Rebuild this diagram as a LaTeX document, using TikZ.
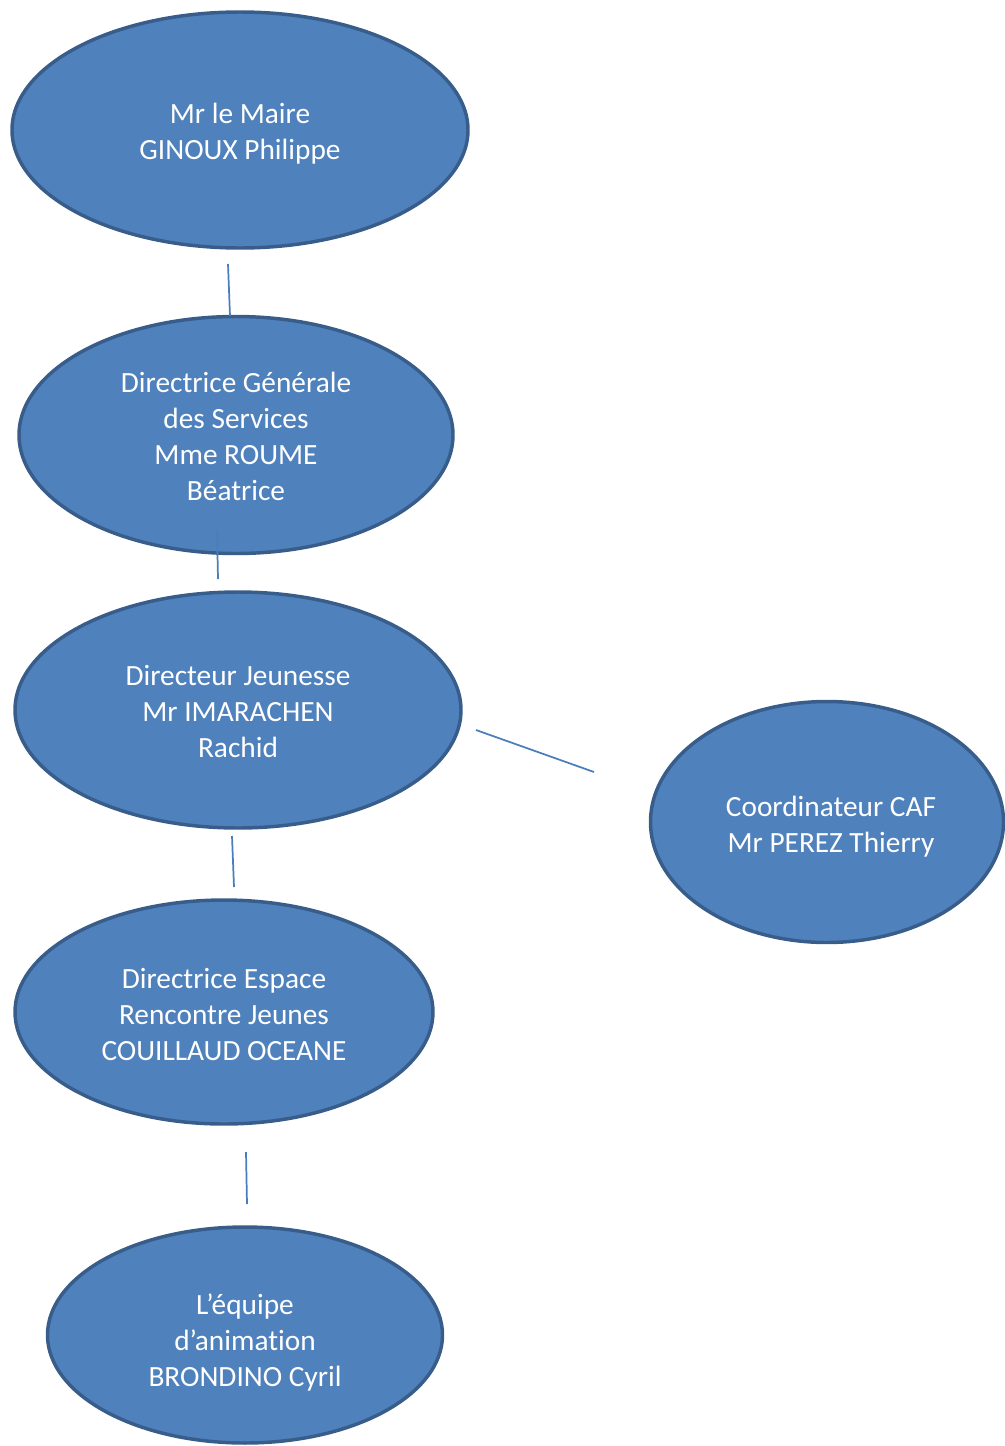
\documentclass[tikz,border=0pt]{standalone}
\usepackage{fontspec}
\setmainfont[Ligatures=NoCommon]{Carlito}
\usetikzlibrary{shapes.geometric}
\definecolor{fillblue}{HTML}{4F81BD}
\definecolor{edgeblue}{HTML}{385D8A}
\definecolor{lineblue}{HTML}{4A7EBB}
\newcommand\ovtxt[2]{\raisebox{#1}[\height][\depth]{\begin{tabular}{@{}c@{}}#2\end{tabular}}}
\tikzset{
  oval/.style={ellipse, draw=edgeblue, fill=fillblue, line width=2.6pt, inner sep=0pt,
    text=white, align=center, font=\fontsize{22pt}{27pt}\selectfont},
  link/.style={draw=lineblue, line width=1.3pt}
}
\begin{document}
\begin{tikzpicture}[x=0.75pt,y=-0.75pt]
\useasboundingbox (0,0) rectangle (1005,1446);
\begin{scope}
\clip (0,0) rectangle (1005,1446);
\node[oval, minimum width=456*0.75pt, minimum height=236*0.75pt] (maire) at (240,130) {\ovtxt{-3pt}{Mr le Maire\\GINOUX Philippe}};
\node[oval, minimum width=434*0.75pt, minimum height=237*0.75pt] (dgs) at (236,435) {\ovtxt{-3pt}{Directrice Générale\\des Services\\Mme ROUME\\Béatrice}};
\node[oval, minimum width=446*0.75pt, minimum height=236*0.75pt] (dj) at (238,710) {\ovtxt{-3pt}{Directeur Jeunesse\\Mr IMARACHEN\\Rachid}};
\node[oval, minimum width=353*0.75pt, minimum height=241*0.75pt] (caf) at (827,822) {\ovtxt{-3.75pt}{\hspace*{6pt}Coordinateur CAF\\\hspace*{6pt}Mr PEREZ Thierry}};
\node[oval, minimum width=418*0.75pt, minimum height=224*0.75pt] (erj) at (224,1012) {\ovtxt{-3.75pt}{Directrice Espace\\Rencontre Jeunes\\COUILLAUD OCEANE}};
\node[oval, minimum width=395*0.75pt, minimum height=216*0.75pt] (equipe) at (245,1335) {\ovtxt{-6pt}{L’équipe\\d’animation\\BRONDINO Cyril}};
\end{scope}
\coordinate (a1) at (228,264); \coordinate (a2) at (230,316);
\coordinate (b1) at (217,530); \coordinate (b2) at (218,579);
\coordinate (c1) at (232,836); \coordinate (c2) at (234,887);
\coordinate (d1) at (476,730); \coordinate (d2) at (594,772);
\coordinate (e1) at (246,1152); \coordinate (e2) at (247,1204);
\draw[link] (a1) -- (a2);
\draw[link] (b1) -- (b2);
\draw[link] (c1) -- (c2);
\draw[link] (d1) -- (d2);
\draw[link] (e1) -- (e2);
\end{tikzpicture}
\end{document}
